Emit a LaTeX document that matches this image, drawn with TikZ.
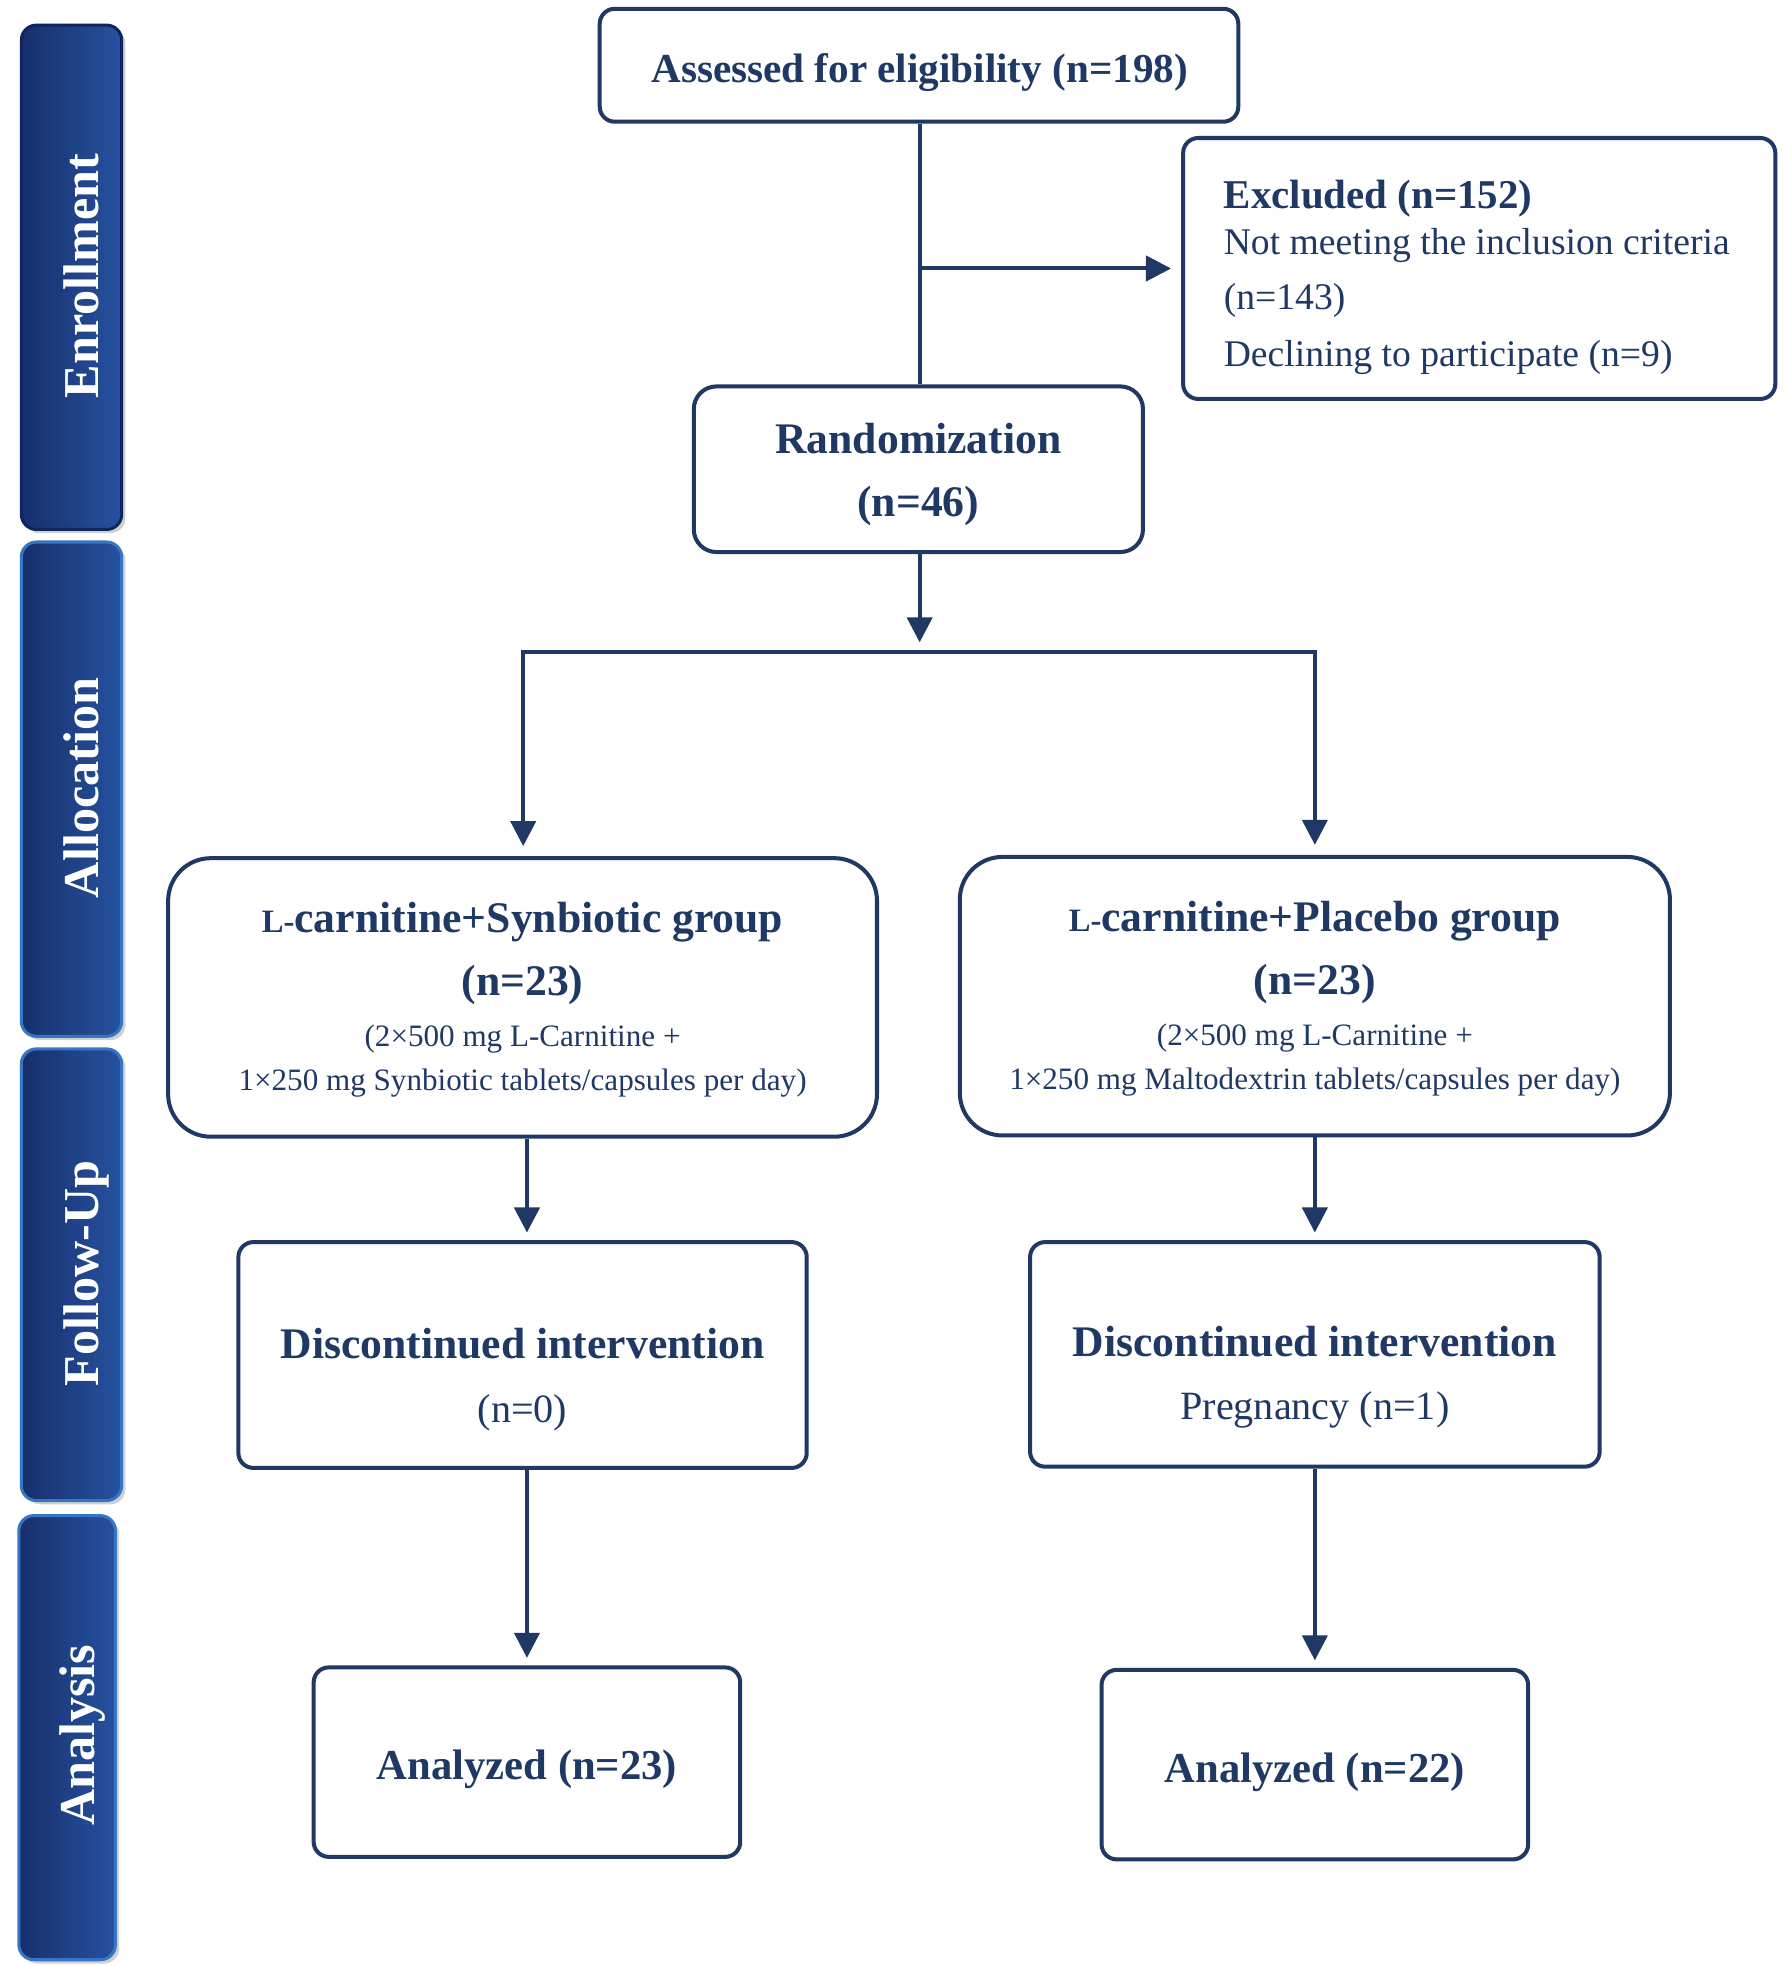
\documentclass[tikz,border=0pt]{standalone}
\usepackage{fontspec}
\setmainfont{Liberation Serif}
\usetikzlibrary{arrows.meta,shadows}
\definecolor{navy}{HTML}{1F3864}
\definecolor{bandL}{HTML}{172F6A}
\definecolor{bandR}{HTML}{2652A0}
\definecolor{bandEdgeA}{HTML}{0E2560}
\definecolor{bandEdgeB}{HTML}{3577C6}
\newcommand{\fsz}[1]{\fontsize{#1}{#1}\selectfont}
\tikzset{
  box/.style={draw=navy, line width=1.6pt, fill=white, rounded corners=6pt, inner sep=0pt},
  tb/.style={text=navy, anchor=base, inner sep=0pt, font=\bfseries\fsz{17.4pt}},
  tr/.style={text=navy, anchor=base, inner sep=0pt, font=\fsz{16pt}},
  ts/.style={text=navy, anchor=base, inner sep=0pt, font=\fsz{12.4pt}},
  arr/.style={draw=navy, line width=1.6pt, -{Triangle[length=10pt,width=10pt]}},
  ln/.style={draw=navy, line width=1.6pt},
  band/.style={left color=bandL, right color=bandR, rounded corners=6pt, line width=1.2pt,
     drop shadow={shadow xshift=1.5pt, shadow yshift=-1.5pt, opacity=0.3, fill=black!60}},
  bandtxt/.style={rotate=90, text=white, font=\bfseries\fsz{20pt}, inner sep=0pt, text height=13.2pt, text depth=0pt}
}
\begin{document}
\begin{tikzpicture}[x=0.5pt,y=-0.5pt]
\useasboundingbox (0,0) rectangle (1427,1567);
\fill[white] (0,0) rectangle (1427,1567);

% side bands
\draw[band, draw=bandEdgeA] (17,20) rectangle (97,422);
\node[bandtxt] (tEnr) at (65,220) {Enrollment};
\draw[band, draw=bandEdgeB] (17,432) rectangle (97,826);
\node[bandtxt] (tAll) at (65,628) {Allocation};
\draw[band, draw=bandEdgeB] (17,836) rectangle (97,1196);
\node[bandtxt] (tFol) at (65,1015) {Follow-Up};
\draw[band, draw=bandEdgeB] (15,1208) rectangle (92,1562);
\node[bandtxt] (tAna) at (62,1383) {Analysis};

% boxes
\node[box, minimum width=254.5pt, minimum height=45pt] (assess) at (732.5,52) {};
\node[box, minimum width=236pt, minimum height=104pt] (excl) at (1179,214) {};
\node[box, rounded corners=9pt, minimum width=179pt, minimum height=66pt] (rand) at (732,374) {};
\node[box, rounded corners=17pt, minimum width=282.5pt, minimum height=111pt] (grpL) at (416.5,795) {};
\node[box, rounded corners=17pt, minimum width=283pt, minimum height=111pt] (grpR) at (1048,794) {};
\node[box, minimum width=226.5pt, minimum height=90pt] (discL) at (416.5,1080) {};
\node[box, minimum width=227pt, minimum height=89.5pt] (discR) at (1048,1079.5) {};
\node[box, minimum width=170pt, minimum height=75.5pt] (anaL) at (420,1404.5) {};
\node[box, minimum width=170pt, minimum height=75.5pt] (anaR) at (1048,1406.5) {};

% texts
\node[tb, font=\bfseries\fsz{16.4pt}] (tAss) at (733,66) {Assessed for eligibility (n=198)};
\node[tb, anchor=base west, font=\bfseries\fsz{16.3pt}] (tEx1) at (975,166) {Excluded (n=152)};
\node[tr, anchor=base west, font=\fsz{15pt}] (tEx2) at (975,203) {Not meeting the inclusion criteria};
\node[tr, anchor=base west, font=\fsz{15pt}] (tEx3) at (975,247) {(n=143)};
\node[tr, anchor=base west, font=\fsz{15pt}] (tEx4) at (975,292) {Declining to participate (n=9)};

\node[tb] (tR1) at (732,361.5) {Randomization};
\node[tb] (tR2) at (732,411.5) {(n=46)};

\node[tb] (tGL1) at (416.5,743.5) {{\fsz{13pt}L-}carnitine+Synbiotic group};
\node[tb] (tGL2) at (416.5,793.5) {(n=23)};
\node[ts] (tGL3) at (416.5,834.5) {(2×500 mg L-Carnitine +};
\node[ts] (tGL4) at (416.5,869.5) {1×250 mg Synbiotic tablets/capsules per day)};

\node[tb] (tGR1) at (1048,742.5) {{\fsz{13pt}L-}carnitine+Placebo group};
\node[tb] (tGR2) at (1048,792.5) {(n=23)};
\node[ts] (tGR3) at (1048,833.5) {(2×500 mg L-Carnitine +};
\node[ts] (tGR4) at (1048,868.5) {1×250 mg Maltodextrin tablets/capsules per day)};

\node[tb] (tDL1) at (416.5,1082.5) {Discontinued intervention};
\node[tr] (tDL2) at (416.5,1133.5) {(n=0)};
\node[tb] (tDR1) at (1048,1081.5) {Discontinued intervention};
\node[tr] (tDR2) at (1048,1131.5) {Pregnancy (n=1)};

\node[tb, font=\bfseries\fsz{17pt}] (tAL) at (420,1418.5) {Analyzed (n=23)};
\node[tb, font=\bfseries\fsz{17pt}] (tAR) at (1048,1420.5) {Analyzed (n=22)};

% connectors
\coordinate (br) at (733,214);
\coordinate (randTip) at (733,512);
\coordinate (splitL) at (417,520);
\coordinate (splitR) at (1048,520);
\draw[ln] (assess.south -| br) -- (rand.north -| br);
\draw[arr] (br) -- ([xshift=-4pt]excl.west |- br);
\draw[arr] (rand.south -| randTip) -- (randTip);
\draw[ln, line cap=rect] (splitL) -- (splitR);
\draw[arr] (splitL) -- ([yshift=4pt]grpL.north -| splitL);
\draw[arr] (splitR) -- ([yshift=4pt]grpR.north -| splitR);
\coordinate (cL) at (420,0);
\coordinate (cR) at (1048,0);
\draw[arr] (grpL.south -| cL) -- ([yshift=3pt]discL.north -| cL);
\draw[arr] (grpR.south -| cR) -- ([yshift=3pt]discR.north -| cR);
\draw[arr] (discL.south -| cL) -- ([yshift=3pt]anaL.north -| cL);
\draw[arr] (discR.south -| cR) -- ([yshift=3pt]anaR.north -| cR);
\end{tikzpicture}
\end{document}
